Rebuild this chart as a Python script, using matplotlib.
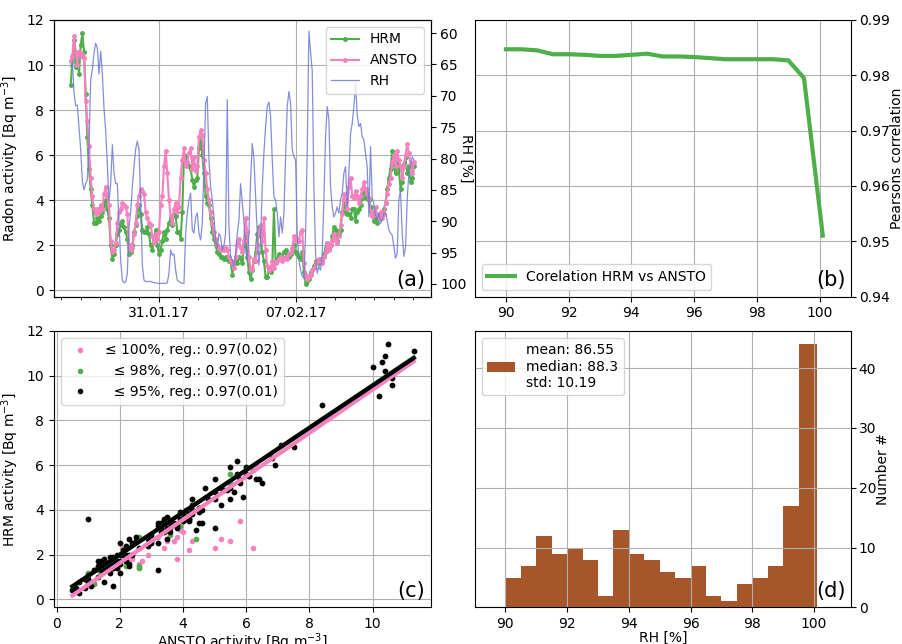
import matplotlib

matplotlib.use("Agg")
import matplotlib.dates as mdates
import matplotlib.pyplot as plt
import numpy as np
import pandas as pd

# time series (a): ~2 h steps, 26.01.17 -> 13.02.17
t_start = "2017-01-26 11:40"
t_end = "2017-02-13 00:46"

ansto = [
    10.2, 10.4, 11.3, 10.6, 10.0, 10.6, 10.4, 10.5, 10.3, 8.4,
    7.5, 6.4, 5.0, 4.2, 3.6, 3.4, 3.6, 3.5, 3.8, 3.6,
    4.3, 4.6, 4.2, 3.8, 2.2, 1.7, 1.8, 2.1, 3.0, 3.5,
    3.6, 3.9, 3.8, 3.7, 3.4, 2.0, 1.8, 1.9, 2.5, 3.0,
    3.8, 4.2, 4.5, 4.4, 4.3, 3.5, 3.2, 3.0, 2.9, 2.4,
    2.1, 2.5, 2.3, 2.6, 3.8, 4.2, 5.5, 6.2, 5.2, 4.0,
    3.3, 3.0, 3.6, 3.9, 3.5, 3.7, 5.0, 5.8, 6.3, 5.5,
    5.7, 6.1, 6.3, 5.4, 5.9, 5.3, 5.5, 6.8, 7.1, 6.9,
    5.8, 5.2, 4.5, 4.0, 3.5, 3.0, 2.6, 2.3, 2.0, 1.9,
    1.8, 1.9, 1.8, 1.9, 1.8, 1.5, 1.3, 1.2, 1.0, 1.5,
    2.0, 2.3, 1.9, 1.7, 2.2, 3.2, 2.6, 1.5, 0.9, 1.0,
    1.4, 1.3, 2.0, 2.6, 2.9, 2.2, 3.2, 1.8, 1.1, 0.9,
    1.0, 1.3, 1.0, 1.2, 1.3, 1.4, 1.5, 1.3, 1.4, 1.5,
    1.4, 1.6, 1.7, 1.9, 2.4, 2.2, 2.3, 2.2, 2.6, 2.7,
    1.2, 0.7, 0.5, 0.6, 0.7, 0.9, 1.0, 1.2, 1.3, 1.4,
    1.3, 1.2, 1.5, 1.7, 2.1, 1.8, 2.0, 2.2, 2.5, 2.3,
    2.1, 2.4, 2.9, 3.4, 4.3, 4.0, 3.6, 4.6, 5.0, 4.2,
    4.1, 4.4, 4.2, 3.9, 4.2, 4.5, 4.8, 4.5, 4.3, 4.1,
    3.5, 3.3, 3.5, 3.7, 3.3, 3.2, 3.5, 3.2, 3.4, 3.9,
    4.3, 4.7, 5.0, 5.7, 6.0, 5.5, 6.2, 5.8, 5.5, 5.0,
    5.5, 6.0, 6.5, 6.1, 5.6, 5.2, 5.7,
]

hrm = [
    9.1, 10.2, 11.1, 9.9, 10.4, 9.6, 10.9, 11.4, 10.6, 8.7,
    6.8, 5.4, 4.5, 3.8, 3.0, 3.0, 3.2, 3.1, 3.3, 3.5,
    3.8, 4.0, 3.6, 3.2, 2.0, 1.4, 1.6, 2.0, 2.5, 2.7,
    2.9, 3.1, 2.8, 2.6, 2.3, 1.6, 1.7, 2.0, 2.6, 2.9,
    3.3, 3.8, 3.4, 2.7, 2.6, 2.6, 2.8, 2.5, 2.0, 1.8,
    2.3, 2.7, 2.0, 1.6, 1.8, 2.2, 2.6, 2.3, 2.7, 3.0,
    3.2, 2.9, 3.4, 3.3, 2.6, 2.6, 2.3, 3.5, 6.0, 5.9,
    5.6, 5.5, 5.4, 4.9, 4.6, 4.9, 5.0, 6.3, 6.9, 6.0,
    5.2, 4.2, 3.9, 3.8, 3.2, 2.6, 2.3, 2.0, 1.7, 1.6,
    1.5, 1.5, 1.4, 1.5, 1.4, 1.3, 1.3, 0.7, 1.2, 1.3,
    1.2, 1.5, 1.4, 1.2, 2.0, 2.5, 1.5, 0.8, 0.5, 0.9,
    1.3, 1.7, 2.5, 2.8, 2.4, 1.7, 1.3, 0.6, 0.6, 0.9,
    0.8, 1.0, 3.6, 1.3, 1.4, 1.6, 1.4, 1.5, 1.7, 1.8,
    1.6, 1.5, 1.6, 1.7, 2.0, 1.7, 1.6, 1.5, 1.4, 1.7,
    0.8, 0.3, 0.4, 0.5, 0.8, 0.9, 1.1, 1.3, 1.3, 1.2,
    1.4, 1.3, 1.6, 1.9, 2.1, 1.9, 2.0, 2.4, 2.8, 2.7,
    2.2, 2.5, 2.7, 3.5, 4.0, 3.5, 3.4, 3.4, 3.2, 3.6,
    3.6, 3.1, 3.5, 3.6, 3.8, 4.1, 4.5, 4.1, 4.2, 4.0,
    3.7, 3.4, 3.1, 3.4, 3.0, 3.3, 3.2, 3.4, 3.6, 3.9,
    4.5, 5.0, 5.4, 6.2, 5.6, 5.2, 5.8, 5.4, 4.5, 4.8,
    5.6, 5.9, 5.2, 5.5, 4.8, 5.0, 5.5,
]

rh = [
    65.3, 64.5, 69.5, 71.6, 71.5, 75.0, 78.6, 83.7, 85.0, 84.0,
    83.4, 78.0, 67.5, 65.8, 63.2, 61.6, 62.4, 66.5, 62.9, 66.5,
    72.0, 75.5, 81.3, 86.8, 84.0, 77.8, 82.3, 84.0, 84.0, 90.0,
    96.2, 99.4, 99.8, 99.7, 98.3, 91.0, 88.5, 84.5, 81.3, 78.5,
    77.2, 78.5, 86.6, 97.0, 99.4, 99.6, 99.6, 99.6, 99.6, 99.7,
    99.8, 99.8, 99.9, 99.9, 99.9, 99.9, 99.9, 99.9, 99.8, 98.3,
    94.6, 95.4, 95.2, 97.8, 99.4, 99.6, 99.8, 99.9, 99.9, 91.9,
    88.7, 86.6, 85.5, 91.4, 91.9, 89.3, 88.7, 91.9, 93.0, 90.3,
    81.3, 71.2, 70.1, 80.2, 84.5, 86.6, 89.3, 93.0, 94.3, 91.9,
    92.5, 94.6, 94.0, 91.9, 70.6, 90.9, 95.6, 96.2, 97.2, 95.1,
    91.9, 89.8, 84.0, 87.0, 90.0, 94.5, 96.2, 91.9, 83.4, 77.6,
    80.0, 86.0, 92.0, 97.0, 93.0, 84.5, 79.1, 74.9, 71.7, 71.0,
    73.3, 80.2, 86.1, 86.6, 88.7, 92.5, 89.3, 91.9, 88.7, 79.7,
    71.7, 69.3, 71.2, 78.6, 79.7, 80.2, 91.9, 96.2, 97.8, 98.8,
    99.1, 91.9, 78.6, 59.7, 63.0, 66.0, 84.5, 95.1, 98.3, 97.2,
    97.8, 95.1, 86.6, 76.5, 71.7, 73.8, 84.5, 87.7, 89.3, 88.7,
    87.7, 88.7, 86.6, 85.5, 82.3, 81.3, 87.7, 82.3, 76.0, 74.4,
    71.7, 68.0, 73.0, 74.9, 74.4, 76.5, 77.0, 79.1, 81.3, 89.3,
    78.1, 86.3, 87.2, 89.0, 89.8, 88.7, 90.3, 89.8, 88.7, 88.7,
    89.8, 91.4, 91.9, 92.2, 94.0, 95.9, 95.1, 86.6, 85.0, 91.9,
    95.6, 94.3, 86.6, 82.3, 81.3, 79.7, 80.2,
]

# (b) correlation vs RH threshold
corr_rh = [90, 90.5, 91, 91.5, 92, 92.5, 93, 93.5, 94, 94.5, 95,
           95.5, 96, 96.5, 97, 97.5, 98, 98.5, 99, 99.5, 100.1]
corr_r = [0.9847, 0.9847, 0.9845, 0.9838, 0.9838, 0.9837, 0.9835,
          0.9835, 0.9837, 0.9839, 0.9834, 0.9834, 0.9833, 0.9831,
          0.9829, 0.9829, 0.9829, 0.9829, 0.9827, 0.9795, 0.951]

# (c) RH classes and their regression lines
rh_limits = [100, 98, 95]
reg_slope = [0.969, 0.948, 0.945]
reg_icpt = [-0.31, 0.10, 0.11]
reg_labels = [
    "≤ 100%, reg.: 0.97(0.02)",
    "  ≤ 98%, reg.: 0.97(0.01)",
    "  ≤ 95%, reg.: 0.97(0.01)",
]

# (d) RH histogram
hist_edges = [90, 90.5, 91, 91.5, 92, 92.5, 93, 93.5, 94, 94.5, 95,
              95.5, 96, 96.5, 97, 97.5, 98, 98.5, 99, 99.5, 100.1]
hist_counts = [5, 7, 12, 9, 10, 8, 2, 13, 9, 8, 6, 5, 7, 2, 1, 4, 5, 7, 17, 44]
hist_label = "mean: 86.55\nmedian: 88.3\nstd: 10.19"

GREEN = "#4daf4a"
PINK = "#f781bf"
BLUE = "#6f7bd6"
BROWN = "#a65628"
class_colors = [PINK, GREEN, "k"]


def panel_tag(ax, tag):
    ax.text(0.985, 0.025, tag, transform=ax.transAxes, ha="right",
            va="bottom", fontsize=15, zorder=10)


times = pd.date_range(t_start, t_end, periods=len(ansto))
ansto = np.asarray(ansto)
hrm = np.asarray(hrm)
rh = np.asarray(rh)

fig, axs = plt.subplots(2, 2, figsize=(9.02, 6.44), dpi=100)
fig.subplots_adjust(left=0.0599, right=0.9435, top=0.969, bottom=0.0567,
                    wspace=0.117, hspace=0.1245)
ax_a, ax_b = axs[0]
ax_c, ax_d = axs[1]

# (a) time series
l_hrm, = ax_a.plot(times, hrm, "o-", color=GREEN, lw=1.5, ms=2.5, label="HRM")
l_ansto, = ax_a.plot(times, ansto, "o-", color=PINK, lw=1.5, ms=2.5, label="ANSTO")
ax_a.set_ylim(-0.27, 12.0)
ax_a.set_xlim(pd.Timestamp("2017-01-25 15:13"), pd.Timestamp("2017-02-13 21:13"))
ax_a.xaxis.set_major_locator(mdates.WeekdayLocator(byweekday=mdates.TU))
ax_a.xaxis.set_minor_locator(mdates.DayLocator())
ax_a.xaxis.set_major_formatter(mdates.DateFormatter("%d.%m.%y"))
ax_a.set_ylabel("Radon activity [Bq m$^{-3}$]")
ax_a.grid(True)

ax_rh = ax_a.twinx()
l_rh, = ax_rh.plot(times, rh, color=BLUE, lw=0.9, alpha=0.85, label="RH")
ax_rh.set_ylim(102, 57.9)
ax_rh.set_ylabel("RH [%]", rotation=270, labelpad=5)
ax_rh.legend(handles=[l_hrm, l_ansto, l_rh], loc="upper right")
panel_tag(ax_rh, "(a)")

# (b) correlation
ax_b.plot(corr_rh, corr_r, color=GREEN, lw=3, label="Corelation HRM vs ANSTO")
ax_b.set_xlim(89, 101)
ax_b.set_ylim(0.94, 0.99)
ax_b.set_yticks(np.arange(0.94, 0.995, 0.01))
ax_b.yaxis.tick_right()
ax_b.yaxis.set_label_position("right")
ax_b.tick_params(axis="y", pad=2)
ax_b.set_ylabel("Pearsons correlation", labelpad=0)
ax_b.grid(True)
ax_b.legend(loc="lower left")
panel_tag(ax_b, "(b)")

# (c) scatter HRM vs ANSTO by RH class
handles = []
for lim, col, lab in zip(rh_limits, class_colors, reg_labels):
    m = rh <= lim
    h, = ax_c.plot(ansto[m], hrm[m], ".", color=col, label=lab)
    handles.append(h)
for lim, col, k, b in zip(rh_limits, class_colors, reg_slope, reg_icpt):
    m = rh <= lim
    xs = np.array([ansto[m].min(), ansto[m].max()])
    ax_c.plot(xs, k * xs + b, color=col, lw=3)
ax_c.set_xlim(-0.08, 11.83)
ax_c.set_ylim(-0.36, 12.0)
ax_c.set_xlabel("ANSTO activity [Bq m$^{-3}$]", labelpad=0)
ax_c.set_ylabel("HRM activity [Bq m$^{-3}$]")
ax_c.grid(True)
ax_c.legend(handles=handles, loc="upper left")
panel_tag(ax_c, "(c)")

# (d) histogram of RH
ax_d.hist(hist_edges[:-1], bins=hist_edges, weights=hist_counts,
          color=BROWN, label=hist_label)
ax_d.set_xlim(89, 101.2)
ax_d.yaxis.tick_right()
ax_d.yaxis.set_label_position("right")
ax_d.tick_params(axis="y", pad=2)
ax_d.set_ylabel("Number #", labelpad=0)
ax_d.set_xlabel("RH [%]", labelpad=0)
ax_d.grid(True)
ax_d.legend(loc="upper left")
panel_tag(ax_d, "(d)")

fig.savefig("out.png", dpi=100)
